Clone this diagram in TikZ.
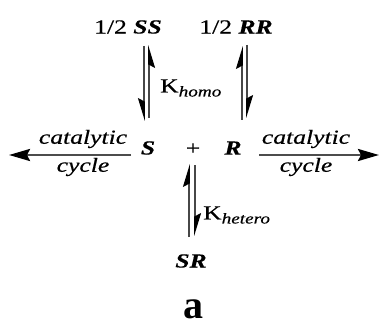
\documentclass[tikz,border=0pt]{standalone}
\usepackage{fontspec}
\setmainfont{Liberation Serif}[FakeBold=0.4]
\newfontfamily\plainserif{Liberation Serif}
\usetikzlibrary{arrows.meta}
\newcommand{\sx}[1]{\scalebox{1.28}[1]{#1}}
\newcommand{\bi}[1]{\textbf{\textit{#1}}}
\begin{document}
\begin{tikzpicture}[x=1pt,y=-1pt,
  lbl/.style={inner sep=0pt, font=\fontsize{20}{22}\selectfont},
  eq/.style={line width=1.7pt, draw=black!72},
  hp/.style={eq,-{Stealth[harpoon,length=20pt,width=12pt,inset=3pt,color=black]}},
  hps/.style={eq,-{Stealth[harpoon,swap,length=20pt,width=12pt,inset=3pt,color=black]}},
  cyc/.style={line width=2.6pt, draw=black!70, -{Stealth[length=21pt,width=12pt,inset=3pt,color=black]}}]
\useasboundingbox (0,0) rectangle (380,326);
% species
\node[lbl] (ss) at (128,27) {\sx{1/2 \bi{SS}}};
\node[lbl] (rr) at (236,27) {\sx{1/2 \bi{RR}}};
\node[lbl] (S) at (148,148) {\sx{\bi{S}}};
\node[lbl] (plus) at (193,149) {\sx{+}};
\node[lbl] (R) at (233,148) {\sx{\bi{R}}};
\node[lbl] (SR) at (191,261) {\sx{\bi{SR}}};
\node[inner sep=0pt, font=\plainserif\fontsize{40}{42}\selectfont\bfseries] (a) at (193,309) {a};
% constants
\node[lbl, anchor=west] (kh) at (160,88) {\sx{K\raisebox{-4pt}{\fontsize{15}{16}\selectfont\itshape homo}}};
\node[lbl, anchor=west] (kx) at (203,215) {\sx{K\raisebox{-4pt}{\fontsize{15}{16}\selectfont\itshape hetero}}};
% catalytic cycle labels
\node[lbl] (c1) at (83,139) {\sx{\itshape catalytic}};
\node[lbl] (y1) at (83,167) {\sx{\itshape cycle}};
\node[lbl] (c2) at (306,139) {\sx{\itshape catalytic}};
\node[lbl] (y2) at (306,167) {\sx{\itshape cycle}};
% coordinates for connectors
\coordinate (l1t) at (144,46); \coordinate (l1b) at (144,121);
\coordinate (l2t) at (149,45); \coordinate (l2b) at (149,118);
\coordinate (r1t) at (242,46); \coordinate (r1b) at (242,120);
\coordinate (r2t) at (247,45); \coordinate (r2b) at (247,118);
\coordinate (b1t) at (189,164); \coordinate (b1b) at (189,237);
\coordinate (b2t) at (195,165); \coordinate (b2b) at (195,236);
\coordinate (la0) at (131,155); \coordinate (la1) at (9,155);
\coordinate (ra0) at (259,155); \coordinate (ra1) at (379,155);
% equilibria
\draw[hps] (l1t) -- (l1b);
\draw[hps] (l2b) -- (l2t);
\draw[hp] (r1b) -- (r1t);
\draw[hp] (r2t) -- (r2b);
\draw[hp] (b1b) -- (b1t);
\draw[hp] (b2t) -- (b2b);
% catalytic cycles
\draw[cyc] (la0) -- (la1);
\draw[cyc] (ra0) -- (ra1);
\end{tikzpicture}
\end{document}
